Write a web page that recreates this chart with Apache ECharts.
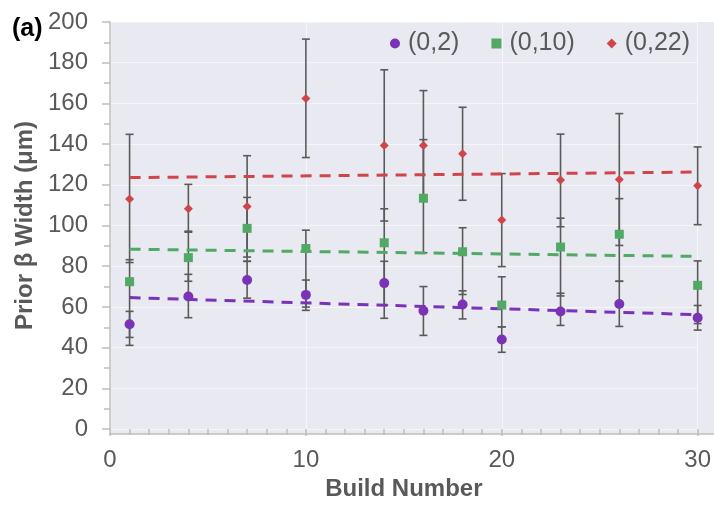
<!DOCTYPE html>
<html>
<head>
<meta charset="utf-8">
<script src="https://cdn.jsdelivr.net/npm/echarts@6/dist/echarts.min.js"></script>
<style>
  html, body { margin: 0; padding: 0; background: #fff; }
  #chart { width: 714px; height: 506px; }
</style>
</head>
<body>
<div id="chart"></div>
<script>
// build numbers on the x axis
const buildNumbers = [1, 4, 7, 10, 14, 16, 18, 20, 23, 26, 30];

// (0,2)
const p2Mean = [51.5, 65.1, 73.2, 65.9, 71.7, 58.1, 61.2, 44.0, 57.7, 61.4, 54.7];
const p2Low  = [45.0, 54.7, 64.3, 58.3, 60.9, 46.0, 54.1, 37.7, 50.9, 50.4, 48.6];
const p2High = [57.8, 76.0, 82.4, 73.2, 82.4, 70.0, 67.9, 50.2, 66.7, 72.6, 60.7];

// (0,10)
const p10Mean = [72.4, 84.2, 98.6, 88.7, 91.5, 113.4, 87.1, 60.9, 89.4, 95.7, 70.6];
const p10Low  = [41.1, 72.6, 82.4, 59.9, 54.4, 86.6, 66.1, 50.2, 65.4, 72.6, 51.8];
const p10High = [83.2, 97.2, 113.8, 97.7, 108.2, 142.2, 98.9, 74.8, 103.6, 113.2, 82.6];

// (0,22)
const p22Mean = [113.0, 108.2, 109.3, 162.4, 139.3, 139.3, 135.2, 102.7, 122.3, 122.6, 119.5];
const p22Low  = [81.8, 96.7, 84.5, 133.4, 102.2, 112.3, 112.4, 79.8, 99.4, 90.2, 100.4];
const p22High = [144.8, 120.2, 134.3, 191.6, 176.5, 166.3, 158.1, 125.5, 144.9, 155.0, 138.6];

const xTicks = [0, 10, 20, 30];
const yTicks = [0, 20, 40, 60, 80, 100, 120, 140, 160, 180, 200];

const seriesNames = ['(0,2)', '(0,10)', '(0,22)'];
const colors = ['#7a33b6', '#52a865', '#d0454a'];
const symbols = ['circle', 'rect', 'diamond'];
const symbolSizes = [10, 9, 9];

const FONT = '"Liberation Sans", Arial, sans-serif';
const GRAY = '#595959';

// linear least squares trendline between the first and last build
function trend(xs, ys) {
  const n = xs.length;
  const mx = xs.reduce((a, b) => a + b, 0) / n;
  const my = ys.reduce((a, b) => a + b, 0) / n;
  let sxy = 0, sxx = 0;
  for (let i = 0; i < n; i++) {
    sxy += (xs[i] - mx) * (ys[i] - my);
    sxx += (xs[i] - mx) * (xs[i] - mx);
  }
  const b = sxy / sxx;
  const a = my - b * mx;
  const x0 = Math.min(...xs), x1 = Math.max(...xs);
  return [[x0, a + b * x0], [x1, a + b * x1]];
}

function errorBar(params, api) {
  const x = api.value(0);
  const lo = api.coord([x, api.value(1)]);
  const hi = api.coord([x, api.value(2)]);
  const w = 4;
  const style = { stroke: '#5a5a5a', lineWidth: 1.6 };
  return {
    type: 'group',
    children: [
      { type: 'line', shape: { x1: hi[0], y1: hi[1], x2: lo[0], y2: lo[1] }, style },
      { type: 'line', shape: { x1: hi[0] - w, y1: hi[1], x2: hi[0] + w, y2: hi[1] }, style },
      { type: 'line', shape: { x1: lo[0] - w, y1: lo[1], x2: lo[0] + w, y2: lo[1] }, style }
    ]
  };
}

const means = [p2Mean, p10Mean, p22Mean];
const lows = [p2Low, p10Low, p22Low];
const highs = [p2High, p10High, p22High];

const series = [];
means.forEach((m, k) => {
  series.push({
    name: seriesNames[k] + ' err',
    type: 'custom',
    renderItem: errorBar,
    encode: { x: 0, y: [1, 2] },
    data: buildNumbers.map((x, i) => [x, lows[k][i], highs[k][i]]),
    z: 1,
    silent: true
  });
});
means.forEach((m, k) => {
  series.push({
    name: seriesNames[k] + ' trend',
    type: 'line',
    data: trend(buildNumbers, m),
    showSymbol: false,
    lineStyle: { color: colors[k], width: 3, type: [11, 8] },
    z: 2,
    silent: true
  });
});
means.forEach((m, k) => {
  series.push({
    name: seriesNames[k],
    type: 'scatter',
    data: buildNumbers.map((x, i) => [x, m[i]]),
    symbol: symbols[k],
    symbolSize: symbolSizes[k],
    itemStyle: { color: colors[k], opacity: 1 },
    z: 3
  });
});

const chart = echarts.init(document.getElementById('chart'));
chart.setOption({
  animation: false,
  backgroundColor: '#fff',
  textStyle: { fontFamily: FONT },
  title: {
    text: '(a)',
    left: 12,
    top: 17,
    padding: 0,
    textStyle: { fontFamily: FONT, fontSize: 25, fontWeight: 'bold', color: '#000' }
  },
  legend: {
    data: seriesNames.map((n, k) => ({ name: n, icon: symbols[k] })),
    left: 390,
    top: 31,
    padding: 0,
    itemWidth: 10,
    itemHeight: 10,
    itemGap: 32,
    textStyle: { fontFamily: FONT, fontSize: 25, color: GRAY, padding: [0, 0, 0, 3] }
  },
  grid: [
    { left: 110, top: 22, right: 15, bottom: 72 },
    { left: 110, top: 22, right: 0, bottom: 72, show: true, backgroundColor: '#e9e9f1', borderWidth: 0 }
  ],
  xAxis: [
    {
      type: 'value',
      gridIndex: 0,
      min: xTicks[0],
      max: xTicks[xTicks.length - 1],
      interval: 10,
      name: 'Build Number',
      nameLocation: 'middle',
      nameGap: 48,
      nameTextStyle: { fontFamily: FONT, fontSize: 24, fontWeight: 'bold', color: GRAY },
      axisLine: { show: false },
      axisTick: { show: true, length: 7, lineStyle: { color: '#bfbfbf', width: 1.5 } },
      minorTick: { show: true, splitNumber: 10, length: 6, lineStyle: { color: '#bfbfbf', width: 1.5 } },
      axisLabel: { fontFamily: FONT, fontSize: 24, color: GRAY, margin: 19 },
      splitLine: { show: true, lineStyle: { color: '#f6f6fa', width: 1.2 } }
    },
    {
      type: 'value',
      gridIndex: 1,
      min: 0,
      max: 1,
      axisLine: { show: true, lineStyle: { color: '#bfbfbf', width: 1.5 } },
      axisTick: { show: false },
      axisLabel: { show: false },
      splitLine: { show: false }
    }
  ],
  yAxis: [
    {
      type: 'value',
      gridIndex: 0,
      min: yTicks[0],
      max: yTicks[yTicks.length - 1],
      interval: 20,
      name: 'Prior β Width (μm)',
      nameLocation: 'middle',
      nameGap: 70,
      nameTextStyle: { fontFamily: FONT, fontSize: 24, fontWeight: 'bold', color: GRAY },
      axisLine: { show: true, lineStyle: { color: '#bfbfbf', width: 1.5 } },
      axisTick: { show: true, length: 8, lineStyle: { color: '#bfbfbf', width: 1.5 } },
      minorTick: { show: true, splitNumber: 2, length: 6, lineStyle: { color: '#bfbfbf', width: 1.5 } },
      axisLabel: { fontFamily: FONT, fontSize: 24, color: GRAY, margin: 22 },
      splitLine: { show: true, lineStyle: { color: '#f6f6fa', width: 1.2 } }
    },
    {
      type: 'value',
      gridIndex: 1,
      min: 0,
      max: 1,
      axisLine: { show: false },
      axisTick: { show: false },
      axisLabel: { show: false },
      splitLine: { show: false }
    }
  ],
  series: series
});
</script>
</body>
</html>
